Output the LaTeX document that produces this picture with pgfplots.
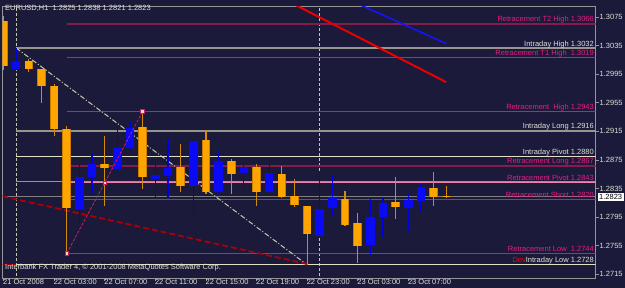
\documentclass[border=0pt]{standalone}
\usepackage{pgfplots}
\pgfplotsset{compat=1.18}
\usepackage{pgfplotstable}
\usepackage{fontspec}
\setmainfont{Liberation Sans}
\definecolor{bgnavy}{RGB}{27,26,58}
\definecolor{axisgray}{RGB}{150,150,150}
\definecolor{labwhite}{RGB}{225,225,215}
\definecolor{pinklab}{RGB}{230,30,130}
\definecolor{pinkline}{RGB}{215,25,100}
\definecolor{maroonline}{RGB}{130,30,70}
\definecolor{lightpink}{RGB}{240,130,170}
\definecolor{lightline}{RGB}{225,225,200}
\definecolor{grayline}{RGB}{150,150,140}
\definecolor{bidgray}{RGB}{128,128,128}
\definecolor{trendred}{RGB}{235,0,0}
\definecolor{trendblue}{RGB}{20,20,255}
\definecolor{dashred}{RGB}{170,0,10}
\definecolor{diagdash}{RGB}{200,200,170}
\definecolor{candleorange}{RGB}{255,165,0}
\definecolor{edgeorange}{RGB}{200,125,0}
\definecolor{wickorange}{RGB}{210,140,10}
\definecolor{candleblue}{RGB}{10,10,245}
\definecolor{wickblue}{RGB}{0,0,225}
\newcommand{\lab}{\fontsize{7.5}{8}\selectfont}

% bearish (orange) candles: hour index, open, high, low, close
\pgfplotstableread{
i o h l c
0 1.3070 1.3077 1.3001 1.3007
2 1.3014 1.3016 1.2999 1.3002
3 1.3002 1.3003 1.2955 1.2979
4 1.2979 1.2981 1.2909 1.2918
5 1.2918 1.2923 1.2744 1.2807
8 1.2869 1.2909 1.2811 1.2864
11 1.2921 1.2943 1.2834 1.2851
14 1.2865 1.2897 1.2830 1.2838
16 1.2903 1.2917 1.2827 1.2830
18 1.2873 1.2876 1.2827 1.2855
20 1.2865 1.2869 1.2810 1.2830
22 1.2855 1.2867 1.2822 1.2823
23 1.2824 1.2848 1.2809 1.2812
24 1.2810 1.2811 1.2728 1.2771
27 1.2820 1.2831 1.2783 1.2784
28 1.2786 1.2800 1.2730 1.2754
31 1.2816 1.2851 1.2792 1.2809
34 1.2836 1.2858 1.2810 1.2823
35 1.2825 1.2838 1.2821 1.2823
}\downdata

% bullish (blue) candles
\pgfplotstableread{
i o h l c
1 1.3002 1.3032 1.3001 1.3014
6 1.2806 1.2869 1.2785 1.2851
7 1.2851 1.2883 1.2827 1.2869
9 1.2862 1.2923 1.2846 1.2892
10 1.2892 1.2928 1.2889 1.2920
12 1.2849 1.2874 1.2820 1.2854
13 1.2853 1.2903 1.2822 1.2864
15 1.2839 1.2907 1.2796 1.2902
17 1.2830 1.2887 1.2827 1.2873
19 1.2857 1.2871 1.2834 1.2865
21 1.2830 1.2872 1.2828 1.2857
25 1.2769 1.2859 1.2767 1.2806
26 1.2807 1.2852 1.2796 1.2823
29 1.2756 1.2820 1.2742 1.2795
30 1.2795 1.2823 1.2767 1.2815
32 1.2807 1.2827 1.2775 1.2819
33 1.2817 1.2841 1.2803 1.2837
}\updata

\pgfplotsset{
  wick/.style={draw=none, mark=none, forget plot,
    error bars/.cd, y dir=both, y explicit, error mark=none,
    error bar style={solid, line width=1.2pt, draw=#1}},
  body/.style 2 args={draw=none, mark=none, forget plot,
    error bars/.cd, y dir=both, y explicit, error mark=none,
    error bar style={solid, line width=#2, draw=#1}},
}

\begin{document}
\begin{tikzpicture}[x=1pt,y=1pt]
\fill[bgnavy] (0,0) rectangle (625,288);
\useasboundingbox (0,0) rectangle (625,288);
\begin{axis}[
  at={(2,14)}, anchor=south west,
  scale only axis, width=593pt, height=272pt,
  xmin=-0.079, xmax=46.8, ymin=1.27094, ymax=1.30908,
  axis line style={axisgray, line width=0.8pt},
  xtick={0,4,8,12,16,20,24,28,32},
  xticklabels={21 Oct 2008, 22 Oct 03:00, 22 Oct 07:00, 22 Oct 11:00, 22 Oct 15:00, 22 Oct 19:00, 22 Oct 23:00, 23 Oct 03:00, 23 Oct 07:00},
  ytick={1.2715,1.2755,1.2795,1.2835,1.2875,1.2915,1.2955,1.2995,1.3035,1.3075},
  yticklabels={1.2715,1.2755,1.2795,1.2835,1.2875,1.2915,1.2955,1.2995,1.3035,1.3075},
  xtick pos=bottom, ytick pos=right, yticklabel pos=right,
  tick align=outside, major tick length=3pt,
  tick style={axisgray, line width=0.8pt},
  every tick label/.append style={text=labwhite, font=\lab, inner sep=0pt},
  xticklabel style={anchor=north west, xshift=-0.5pt, yshift=1.5pt},
  yticklabel style={anchor=west, xshift=1pt},
  clip mode=individual,
]
% day separators
\addplot[diagdash, line width=0.9pt, dash pattern=on 3pt off 2pt] coordinates {(1,1.26) (1,1.32)};
\addplot[diagdash, line width=0.9pt, dash pattern=on 3pt off 2pt] coordinates {(25,1.26) (25,1.32)};

% horizontal levels
\addplot[maroonline, line width=2pt] coordinates {(5,1.3066) (48,1.3066)};
\addplot[grayline, line width=2pt] coordinates {(1,1.3032) (48,1.3032)};
\addplot[pinkline, line width=1pt] coordinates {(5,1.3019) (48,1.3019)};
\addplot[pinkline, line width=1pt] coordinates {(5,1.2943) (48,1.2943)};
\addplot[grayline, line width=2pt] coordinates {(1,1.2916) (48,1.2916)};
\addplot[lightline, line width=1pt] coordinates {(1,1.2880) (48,1.2880)};
\addplot[maroonline, line width=2pt] coordinates {(5,1.2867) (48,1.2867)};
\addplot[grayline, line width=1.6pt] coordinates {(1,1.2845) (48,1.2845)};
\addplot[lightpink, line width=1pt] coordinates {(5,1.2843) (48,1.2843)};
\addplot[bidgray, line width=1pt] coordinates {(-1,1.2823) (48,1.2823)};
\addplot[pinkline, line width=1pt] coordinates {(5,1.2820) (48,1.2820)};
\addplot[pinkline, line width=1pt] coordinates {(5,1.2744) (48,1.2744)};
\addplot[lightline, line width=1.2pt] coordinates {(1,1.2728) (48,1.2728)};
\addplot[dashred, line width=1.2pt] coordinates {(-1,1.2728) (1,1.2728)};

% diagonal lines
\addplot[diagdash, line width=1pt, dash pattern=on 5pt off 2pt on 1pt off 2pt] coordinates {(1,1.3032) (24,1.2728)};
\addplot[dashred, line width=1.8pt, dash pattern=on 6pt off 3pt] coordinates {(-0.08,1.2824) (24,1.2729)};
\addplot[trendred, line width=2pt] coordinates {(23,1.3093) (35,1.2984)};
\addplot[trendblue, line width=1.5pt] coordinates {(28,1.3094) (35,1.3038)};

% candles: wicks, then bodies
\addplot[wick=wickorange] table[x=i, y expr={(\thisrow{h}+\thisrow{l})/2}, y error expr={(\thisrow{h}-\thisrow{l})/2}] {\downdata};
\addplot[wick=wickblue] table[x=i, y expr={(\thisrow{h}+\thisrow{l})/2}, y error expr={(\thisrow{h}-\thisrow{l})/2}] {\updata};
\addplot[body={edgeorange}{8.6pt}] table[x=i, y expr={(\thisrow{o}+\thisrow{c})/2}, y error expr={abs(\thisrow{o}-\thisrow{c})/2}] {\downdata};
\addplot[body={candleorange}{6.8pt}] table[x=i, y expr={(\thisrow{o}+\thisrow{c})/2}, y error expr={abs(\thisrow{o}-\thisrow{c})/2}] {\downdata};
\addplot[body={candleblue}{8.6pt}] table[x=i, y expr={(\thisrow{o}+\thisrow{c})/2}, y error expr={abs(\thisrow{o}-\thisrow{c})/2}] {\updata};

% retracement swing
\addplot[pinkline, line width=0.8pt, dash pattern=on 3pt off 1.5pt, mark=square*, mark size=1.8pt, mark options={solid, draw=pinkline, fill=pink!70!white}] coordinates {(5,1.2744) (8,1.2843) (11,1.2943)};

% level labels
\begin{scope}[every node/.style={anchor=base east, inner sep=0pt, font=\lab, yshift=1.8pt}]
\node[text=pinklab] at (axis cs:46.68,1.3066) {Retracement T2 High 1.3066};
\node[text=labwhite] at (axis cs:46.68,1.3032) {Intraday High 1.3032};
\node[text=pinklab] at (axis cs:46.68,1.3019) {Retracement T1 High\ \ 1.3019};
\node[text=pinklab] at (axis cs:46.68,1.2943) {Retracement\ \ High 1.2943};
\node[text=labwhite] at (axis cs:46.68,1.2916) {Intraday Long 1.2916};
\node[text=labwhite] at (axis cs:46.68,1.2880) {Intraday Pivot 1.2880};
\node[text=pinklab] at (axis cs:46.68,1.2867) {Retracement Long 1.2867};
\node[text=pinklab] at (axis cs:46.68,1.2843) {Retracement Pivot 1.2843};
\node[text=pinklab] at (axis cs:46.68,1.2820) {Retracement Short 1.2820};
\node[text=pinklab] at (axis cs:46.68,1.2744) {Retracement Low\ \ 1.2744};
\node[text=labwhite] at (axis cs:46.68,1.2728) {\textcolor{red}{Dov}Intraday Low 1.2728};
\end{scope}
% current price box
\node[anchor=west, fill=white, text=black, font=\lab, inner xsep=1.5pt, inner ysep=1.2pt, xshift=2pt] at (axis cs:46.8,1.2823) {1.2823};
\end{axis}
\node[anchor=base west, inner sep=0pt, text=labwhite, font=\lab] at (5,277.3) {EURUSD,H1\ \ 1.2825 1.2838 1.2821 1.2823};
\node[anchor=base west, inner sep=0pt, text=labwhite, font=\lab] at (5,18.6) {Interbank FX Trader 4, © 2001-2008 MetaQuotes Software Corp.};
\end{tikzpicture}
\end{document}
